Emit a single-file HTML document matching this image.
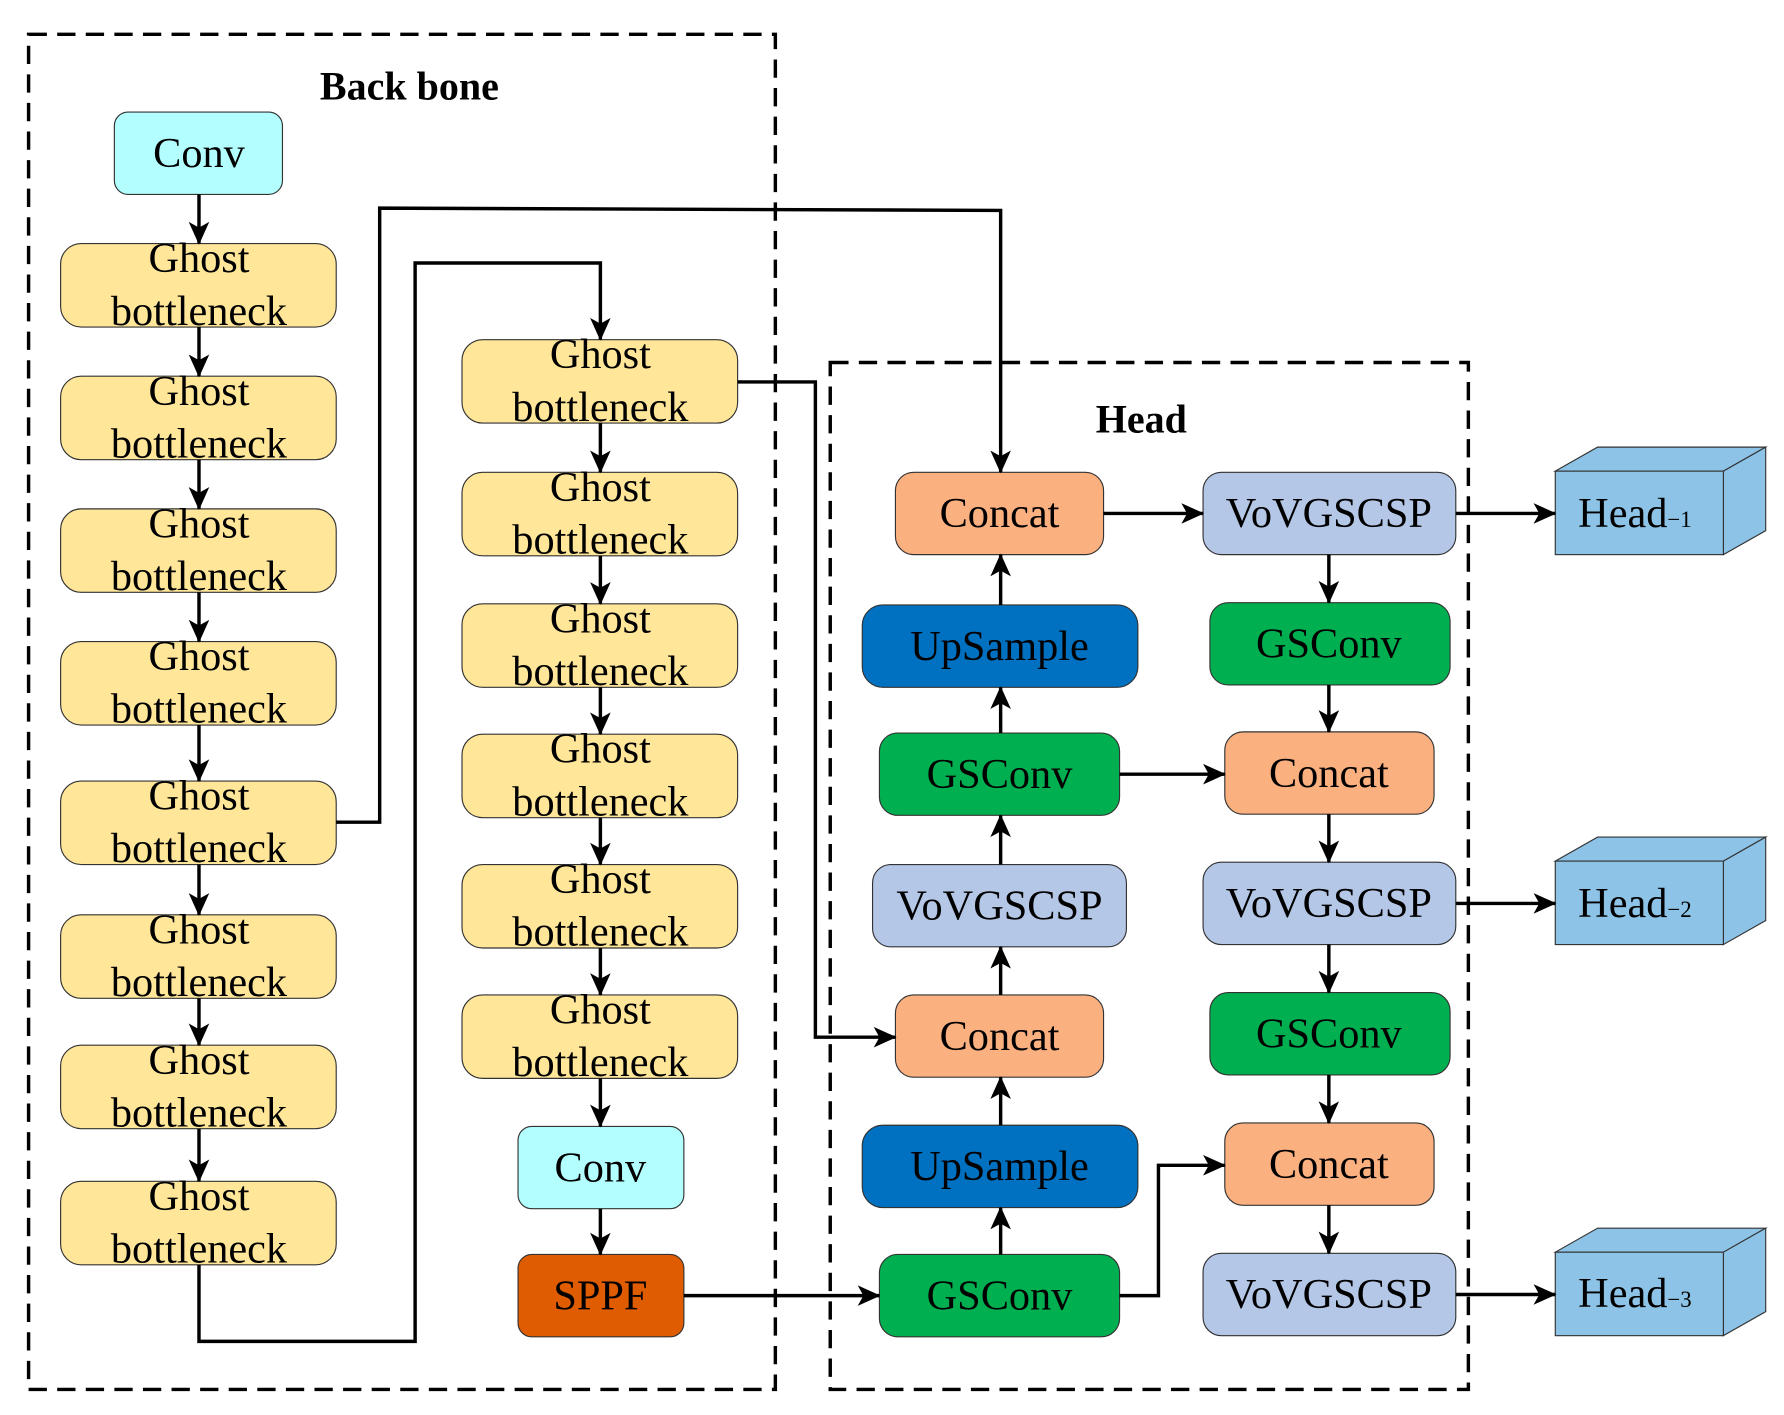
<!DOCTYPE html>
<html><head><meta charset="utf-8"><style>html,body{margin:0;padding:0;background:#fff}</style></head>
<body>
<svg width="1784" height="1410" viewBox="0 0 1560 1233" preserveAspectRatio="none" xmlns="http://www.w3.org/2000/svg" font-family="Liberation Serif, serif">
<defs>
<marker id="a" markerWidth="20" markerHeight="18" refX="19" refY="9" orient="auto" markerUnits="userSpaceOnUse" viewBox="0 0 20 18">
<path d="M0,0 L20,9 L0,18 L5,9 z" fill="#000"/></marker>
</defs>
<rect width="1560" height="1233" fill="#fff"/>
<rect x="25" y="30" width="653" height="1185" fill="none" stroke="#000" stroke-width="3" stroke-dasharray="16,9"/>
<rect x="726" y="317" width="558" height="898" fill="none" stroke="#000" stroke-width="3" stroke-dasharray="16,9"/>
<text x="358" y="87" font-size="35" font-weight="bold" text-anchor="middle">Back bone</text>
<text x="998" y="378" font-size="35" font-weight="bold" text-anchor="middle">Head</text>

<g stroke="#333" stroke-width="1">
<rect x="100" y="98" width="147" height="72" rx="12" fill="#b3ffff"/>
<g fill="#ffe699">
<rect x="53" y="213" width="241" height="73" rx="18"/>
<rect x="53" y="329" width="241" height="73" rx="18"/>
<rect x="53" y="445" width="241" height="73" rx="18"/>
<rect x="53" y="561" width="241" height="73" rx="18"/>
<rect x="53" y="683" width="241" height="73" rx="18"/>
<rect x="53" y="800" width="241" height="73" rx="18"/>
<rect x="53" y="914" width="241" height="73" rx="18"/>
<rect x="53" y="1033" width="241" height="73" rx="18"/>
<rect x="404" y="297" width="241" height="73" rx="18"/>
<rect x="404" y="413" width="241" height="73" rx="18"/>
<rect x="404" y="528" width="241" height="73" rx="18"/>
<rect x="404" y="642" width="241" height="73" rx="18"/>
<rect x="404" y="756" width="241" height="73" rx="18"/>
<rect x="404" y="870" width="241" height="73" rx="18"/>
</g>
<rect x="453" y="985" width="145" height="72" rx="12" fill="#b3ffff"/>
<rect x="453" y="1097" width="145" height="72" rx="12" fill="#e05c00"/>
<rect x="783" y="413" width="182" height="72" rx="16" fill="#fbb080"/>
<rect x="754" y="529" width="241" height="72" rx="18" fill="#0070c0"/>
<rect x="769" y="641" width="210" height="72" rx="16" fill="#00b050"/>
<rect x="763" y="756" width="222" height="72" rx="16" fill="#b4c7e7"/>
<rect x="783" y="870" width="182" height="72" rx="16" fill="#fbb080"/>
<rect x="754" y="984" width="241" height="72" rx="18" fill="#0070c0"/>
<rect x="769" y="1097" width="210" height="72" rx="16" fill="#00b050"/>
<rect x="1052" y="413" width="221" height="72" rx="16" fill="#b4c7e7"/>
<rect x="1058" y="527" width="210" height="72" rx="16" fill="#00b050"/>
<rect x="1071" y="640" width="183" height="72" rx="16" fill="#fbb080"/>
<rect x="1052" y="754" width="221" height="72" rx="16" fill="#b4c7e7"/>
<rect x="1058" y="868" width="210" height="72" rx="16" fill="#00b050"/>
<rect x="1071" y="982" width="183" height="72" rx="16" fill="#fbb080"/>
<rect x="1052" y="1096" width="221" height="72" rx="16" fill="#b4c7e7"/>
</g>

<g stroke="#333" stroke-width="1" fill="#8dc3e6">
<path d="M1360,412 L1397,391 L1544,391 L1507,412 Z"/><path d="M1507,412 L1544,391 L1544,464 L1507,485 Z"/><rect x="1360" y="412" width="147" height="73"/>
<path d="M1360,753 L1397,732 L1544,732 L1507,753 Z"/><path d="M1507,753 L1544,732 L1544,805 L1507,826 Z"/><rect x="1360" y="753" width="147" height="73"/>
<path d="M1360,1095 L1397,1074 L1544,1074 L1507,1095 Z"/><path d="M1507,1095 L1544,1074 L1544,1147 L1507,1168 Z"/><rect x="1360" y="1095" width="147" height="73"/>
</g>

<g font-size="37" text-anchor="middle" fill="#000">
<text x="174" y="146">Conv</text>
<text x="174" y="238">Ghost</text><text x="174" y="284">bottleneck</text>
<text x="174" y="354">Ghost</text><text x="174" y="400">bottleneck</text>
<text x="174" y="470">Ghost</text><text x="174" y="516">bottleneck</text>
<text x="174" y="586">Ghost</text><text x="174" y="632">bottleneck</text>
<text x="174" y="708">Ghost</text><text x="174" y="754">bottleneck</text>
<text x="174" y="825">Ghost</text><text x="174" y="871">bottleneck</text>
<text x="174" y="939">Ghost</text><text x="174" y="985">bottleneck</text>
<text x="174" y="1058">Ghost</text><text x="174" y="1104">bottleneck</text>
<text x="525" y="322">Ghost</text><text x="525" y="368">bottleneck</text>
<text x="525" y="438">Ghost</text><text x="525" y="484">bottleneck</text>
<text x="525" y="553">Ghost</text><text x="525" y="599">bottleneck</text>
<text x="525" y="667">Ghost</text><text x="525" y="713">bottleneck</text>
<text x="525" y="781">Ghost</text><text x="525" y="827">bottleneck</text>
<text x="525" y="895">Ghost</text><text x="525" y="941">bottleneck</text>
<text x="525" y="1033">Conv</text>
<text x="525" y="1145">SPPF</text>
<text x="874" y="461">Concat</text>
<text x="874" y="577">UpSample</text>
<text x="874" y="689">GSConv</text>
<text x="874" y="804">VoVGSCSP</text>
<text x="874" y="918">Concat</text>
<text x="874" y="1032">UpSample</text>
<text x="874" y="1145">GSConv</text>
<text x="1162" y="461">VoVGSCSP</text>
<text x="1162" y="575">GSConv</text>
<text x="1162" y="688">Concat</text>
<text x="1162" y="802">VoVGSCSP</text>
<text x="1162" y="916">GSConv</text>
<text x="1162" y="1030">Concat</text>
<text x="1162" y="1144">VoVGSCSP</text>
</g>
<g font-size="37" fill="#000">
<text x="1380" y="461">Head<tspan font-size="20">−1</tspan></text>
<text x="1380" y="802">Head<tspan font-size="20">−2</tspan></text>
<text x="1380" y="1143">Head<tspan font-size="20">−3</tspan></text>
</g>

<g stroke="#000" stroke-width="3" fill="none" marker-end="url(#a)">
<line x1="174" y1="170" x2="174" y2="213"/>
<line x1="174" y1="286" x2="174" y2="329"/>
<line x1="174" y1="402" x2="174" y2="445"/>
<line x1="174" y1="518" x2="174" y2="561"/>
<line x1="174" y1="634" x2="174" y2="683"/>
<line x1="174" y1="756" x2="174" y2="800"/>
<line x1="174" y1="873" x2="174" y2="914"/>
<line x1="174" y1="987" x2="174" y2="1033"/>
<line x1="525" y1="370" x2="525" y2="413"/>
<line x1="525" y1="486" x2="525" y2="528"/>
<line x1="525" y1="601" x2="525" y2="642"/>
<line x1="525" y1="715" x2="525" y2="756"/>
<line x1="525" y1="829" x2="525" y2="870"/>
<line x1="525" y1="943" x2="525" y2="985"/>
<line x1="525" y1="1057" x2="525" y2="1097"/>
<line x1="875" y1="1097" x2="875" y2="1056"/>
<line x1="875" y1="984" x2="875" y2="942"/>
<line x1="875" y1="870" x2="875" y2="828"/>
<line x1="875" y1="756" x2="875" y2="713"/>
<line x1="875" y1="641" x2="875" y2="601"/>
<line x1="875" y1="529" x2="875" y2="485"/>
<line x1="1162" y1="485" x2="1162" y2="527"/>
<line x1="1162" y1="599" x2="1162" y2="640"/>
<line x1="1162" y1="712" x2="1162" y2="754"/>
<line x1="1162" y1="826" x2="1162" y2="868"/>
<line x1="1162" y1="940" x2="1162" y2="982"/>
<line x1="1162" y1="1054" x2="1162" y2="1096"/>
<line x1="965" y1="449" x2="1052" y2="449"/>
<line x1="979" y1="677" x2="1071" y2="677"/>
<line x1="1273" y1="449" x2="1360" y2="449"/>
<line x1="1273" y1="790" x2="1360" y2="790"/>
<line x1="1273" y1="1132" x2="1360" y2="1132"/>
<line x1="598" y1="1133" x2="769" y2="1133"/>
<polyline points="979,1133 1013,1133 1013,1019 1071,1019"/>
<polyline points="294,719 332,719 332,182 875,184 875,413"/>
<polyline points="174,1106 174,1173 363,1173 363,230 525,230 525,297"/>
<polyline points="645,334 713,334 713,907 783,907"/>
</g>
</svg>
</body></html>
